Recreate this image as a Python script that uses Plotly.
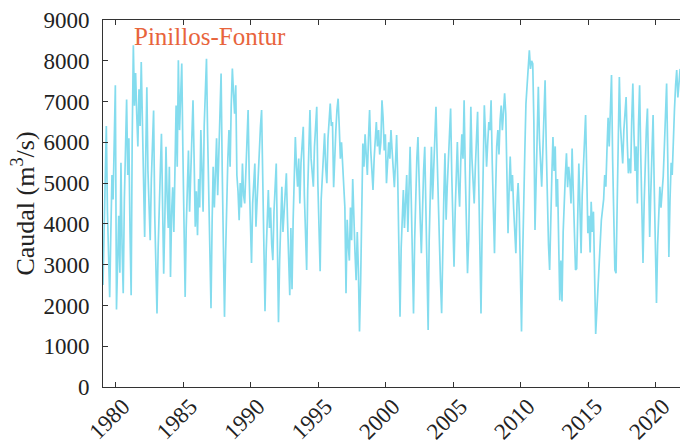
import pandas as pd
import plotly.graph_objects as go

# Monthly discharge (m3/s), Jan 1979 .. Oct 2021, one row per year
caudal_mensual = [
    2500, 4200, 5600, 6400, 4300, 3100, 2200, 3800, 5200, 4600, 6200, 7400,  # 1979
    1900, 3500, 4200, 2800, 5500, 3400, 2300, 4600, 5900, 7050, 5200, 6100,  # 1980
    3800, 2250, 6100, 8380, 6900, 7700, 6700, 5900, 7300, 6400, 7970, 6800,  # 1981
    4900, 3680, 5600, 7350, 5300, 4400, 3600, 5100, 5900, 6780, 4200, 2900,  # 1982
    1800, 3400, 4700, 5300, 6210, 4500, 2780, 4100, 5890, 4700, 3900, 5400,  # 1983
    2700, 4300, 4900, 3800, 5600, 6900, 5400, 8010, 6300, 7200, 7930, 5800,  # 1984
    4200, 2210, 3900, 4900, 5800, 4300, 5300, 6200, 7030, 5600, 3930, 4800,  # 1985
    3720, 5100, 4400, 6300, 5200, 4300, 6400, 7300, 8050, 6200, 4700, 2600,  # 1986
    1930, 4100, 5400, 4400, 5200, 6100, 4700, 5600, 6900, 7690, 5300, 3900,  # 1987
    1720, 3300, 4800, 5600, 6300, 5400, 6900, 7810, 7200, 6700, 7400, 5200,  # 1988
    4800, 4090, 5000, 4400, 5480, 4700, 4500, 5300, 5900, 6790, 5100, 4300,  # 1989
    3040, 4500, 5100, 5480, 3930, 4600, 5200, 5900, 6400, 6790, 4800, 3500,  # 1990
    1860, 3300, 4200, 4830, 3900, 4400, 3500, 3110, 4300, 5000, 5480, 3600,  # 1991
    1590, 3100, 4200, 4910, 3800, 4300, 4800, 5240, 4100, 3200, 2250, 3900,  # 1992
    2400, 4100, 5200, 6130, 5400, 4910, 5600, 4500, 5500, 5900, 6380, 4700,  # 1993
    3900, 2870, 4800, 5800, 6790, 5600, 5200, 4910, 5900, 6300, 6870, 5000,  # 1994
    3800, 2840, 4600, 5300, 5900, 6220, 5400, 5000, 6100, 6500, 6950, 6400,  # 1995
    6500, 4900, 5800, 6300, 6800, 7070, 6400, 5600, 6000, 5400, 4900, 4400,  # 1996
    2300, 4100, 3500, 3100, 4400, 3600, 5100, 4000, 3300, 2620, 3800, 2900,  # 1997
    1360, 2600, 4300, 5970, 5400, 6200, 5700, 5200, 6100, 6790, 5800, 5300,  # 1998
    4830, 5600, 6100, 6500, 5900, 6300, 5700, 6000, 7030, 6600, 5800, 6200,  # 1999
    5000, 5700, 6000, 5600, 6300, 5800, 5300, 4900, 5500, 6180, 5100, 3400,  # 2000
    1720, 3400, 4200, 4830, 3900, 4500, 5200, 3800, 4800, 5890, 4600, 3300,  # 2001
    1800, 3600, 4700, 5600, 6130, 4900, 4100, 3280, 4600, 5300, 5890, 4200,  # 2002
    2800, 1400, 3600, 4800, 5890, 4600, 5400, 5900, 6870, 5700, 4500, 3280,  # 2003
    2600, 1810, 3800, 4700, 5730, 4100, 4900, 5600, 6100, 6830, 5200, 4300,  # 2004
    2950, 4300, 5200, 6010, 5000, 4420, 5500, 6200, 5600, 7030, 5300, 3900,  # 2005
    2790, 3600, 5100, 6870, 5600, 5000, 4500, 5400, 6000, 6750, 5000, 3700,  # 2006
    1800, 3900, 5500, 6910, 6200, 5400, 5970, 6500, 6300, 7030, 5500, 4400,  # 2007
    3280, 4800, 5900, 6300, 5700, 6540, 6900, 6300, 6800, 7200, 6700, 5100,  # 2008
    3770, 4900, 5650, 4800, 5200, 4400, 3800, 3280, 4500, 5000, 4300, 3000,  # 2009
    1360, 3200, 4900, 5800, 6950, 7500, 7900, 8260, 7800, 8000, 7930, 6500,  # 2010
    3850, 5200, 6300, 7360, 6100, 5400, 4910, 5800, 6600, 7520, 5900, 4200,  # 2011
    3500, 2870, 4400, 5200, 6130, 5300, 5900, 4420, 5100, 3600, 2130, 3100,  # 2012
    2100, 3800, 4700, 5200, 5730, 4900, 5400, 5070, 4500, 5850, 4800, 3800,  # 2013
    2870, 2900, 4600, 5480, 4400, 3280, 4700, 5500, 6200, 6670, 5200, 3770,  # 2014
    4200, 3300, 4540, 3800, 4300, 2900, 1300, None, None, None, None, 4090,  # 2015
    4300, 4600, 5200, 4910, 5800, 6600, 5900, 6900, 7650, 5600, 4100, 2870,  # 2016
    2790, 4700, 6200, 7600, 6400, 5800, 5480, 6300, 6800, 7110, 6000, 5240,  # 2017
    5600, 5240, 6500, 7440, 6200, 5300, 5900, 4500, 6400, 7400, 5700, 4200,  # 2018
    3040, 4500, 5700, 6300, 6830, 5100, 3680, 4800, 5900, 6670, 4900, 3400,  # 2019
    2060, 3500, 4300, 4910, 4400, 4800, 5160, 5900, 6700, 7440, 5600, 3190,  # 2020
    4600, 5500, 5200, 6220, 6800, 7400, 7770, 7100, 7600, 7800,              # 2021
]
fecha_inicio = "1979-01-01"

anios_ticks = [1980, 1985, 1990, 1995, 2000, 2005, 2010, 2015, 2020]
etiquetas_x = [str(a) for a in anios_ticks]
valores_y = [0, 1000, 2000, 3000, 4000, 5000, 6000, 7000, 8000, 9000]
etiquetas_y = [str(v) for v in valores_y]

estacion = "Pinillos-Fontur"
titulo_y = "Caudal (m<sup>3</sup>/s)"

fechas = pd.date_range(fecha_inicio, periods=len(caudal_mensual), freq="MS") + pd.Timedelta(days=14)

fig = go.Figure()
fig.add_trace(go.Scatter(
    x=fechas, y=caudal_mensual, mode="lines",
    line=dict(color="#84dcee", width=1.7),
    connectgaps=True, hoverinfo="skip", showlegend=False,
))

FONT = "Liberation Serif, DejaVu Serif, serif"
axis_color = "#333333"
text_color = "#222222"

fig.update_layout(
    width=680, height=446,
    margin=dict(l=103, r=0, t=20, b=59, autoexpand=False),
    paper_bgcolor="white", plot_bgcolor="white",
    font=dict(family=FONT, size=23, color=text_color),
    showlegend=False,
)
fig.update_xaxes(
    range=["1979-01-15", "2021-10-12"],
    tickvals=[f"{a}-01-01" for a in anios_ticks], ticktext=etiquetas_x,
    tickangle=-45, ticks="inside", ticklen=5, tickcolor=axis_color,
    showline=True, linecolor=axis_color, linewidth=1, mirror="ticks",
    showgrid=False, zeroline=False, automargin=False,
    ticklabelstandoff=-4, ticklabelshift=7,
    tickfont=dict(family=FONT, size=23, color=text_color),
)
fig.update_yaxes(
    range=[0, 9000],
    tickvals=valores_y, ticktext=etiquetas_y,
    ticks="inside", ticklen=5, tickcolor=axis_color,
    showline=True, linecolor=axis_color, linewidth=1, mirror=False,
    showgrid=False, zeroline=False, ticklabelstandoff=8, automargin=False,
    tickfont=dict(family=FONT, size=23, color=text_color),
    title=dict(text=titulo_y, font=dict(family=FONT, size=26, color=text_color), standoff=1),
)
fig.add_annotation(
    xref="paper", yref="paper", x=0.050, y=0.954,
    xanchor="left", yanchor="middle", showarrow=False,
    text=estacion, font=dict(family=FONT, size=25, color="#e8643c"),
)

fig.write_html(
    "out.html",
    config={"displayModeBar": False},
    post_script="document.body.style.margin='0';document.body.style.padding='0';",
)
